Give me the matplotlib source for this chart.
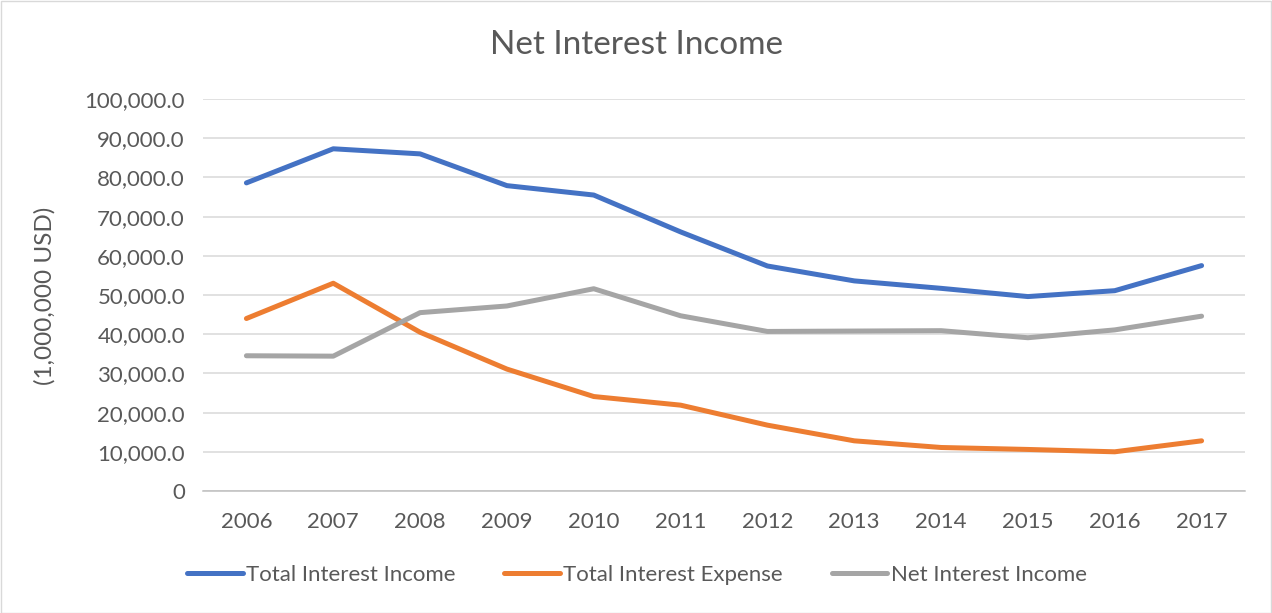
import matplotlib
matplotlib.use("Agg")
import matplotlib.pyplot as plt
from matplotlib.ticker import FuncFormatter, MultipleLocator
from matplotlib.patches import Rectangle

years = ["2006", "2007", "2008", "2009", "2010", "2011", "2012", "2013", "2014", "2015", "2016", "2017"]
total_interest_income = [78600, 87300, 86000, 77900, 75500, 66100, 57400, 53600, 51700, 49600, 51100, 57500]
total_interest_expense = [44000, 53000, 40500, 31100, 24100, 21900, 16800, 12800, 11100, 10600, 10000, 12800]
net_interest_income = [34500, 34400, 45500, 47200, 51600, 44700, 40700, 40800, 40900, 39100, 41100, 44600]

series_names = ["Total Interest Income", "Total Interest Expense", "Net Interest Income"]
colors = ["#4472C4", "#ED7D31", "#A5A5A5"]
text_color = "#595959"

plt.rcParams['font.family'] = ['Lato', 'DejaVu Sans']

fig = plt.figure(figsize=(12.72, 6.13), dpi=100)
W, H = 1272, 613
ax = fig.add_axes([203 / W, 1 - 491 / H, (1245 - 203) / W, (491 - 99) / H])

x = list(range(len(years)))
for vals, name, c in zip([total_interest_income, total_interest_expense, net_interest_income], series_names, colors):
    ax.plot(x, vals, color=c, lw=3.6, label=name, solid_capstyle='round', solid_joinstyle='round')

ax.set_xlim(-0.5, len(years) - 0.5)
ax.set_ylim(0, 100000)
ax.yaxis.set_major_locator(MultipleLocator(10000))
ax.yaxis.set_major_formatter(FuncFormatter(lambda v, p: "0" if v == 0 else f"{v:,.1f}"))
ax.set_xticks(x)
ax.set_xticklabels(years)
ax.grid(axis='y', color='#D9D9D9', lw=1.1)
ax.set_axisbelow(True)
for s in ['top', 'right', 'left']:
    ax.spines[s].set_visible(False)
ax.spines['bottom'].set_color('#BFBFBF')
ax.spines['bottom'].set_linewidth(1.1)
ax.tick_params(axis='both', length=0, colors=text_color, labelsize=16)
ax.tick_params(axis='x', pad=15)
ax.tick_params(axis='y', pad=13)

fig.text(637 / W, 1 - 45 / H, "Net Interest Income", ha='center', va='center', fontsize=24, color=text_color)
fig.text(45 / W, 1 - 296 / H, "(1,000,000 USD)", ha='center', va='center', rotation=90, fontsize=17.5, color=text_color)

leg = fig.legend(loc='center', bbox_to_anchor=(637 / W, 1 - 575 / H), ncol=3, frameon=False,
                 fontsize=16, handlelength=2.5, columnspacing=2.2, handletextpad=0.15)
for t in leg.get_texts():
    t.set_color(text_color)

fig.patches.append(Rectangle((0.5 / W, 0.5 / H), 1 - 1.5 / W, 1 - 1.5 / H, transform=fig.transFigure,
                             fill=False, edgecolor='#D9D9D9', lw=1))

fig.savefig("out.png", dpi=100, facecolor='white')
